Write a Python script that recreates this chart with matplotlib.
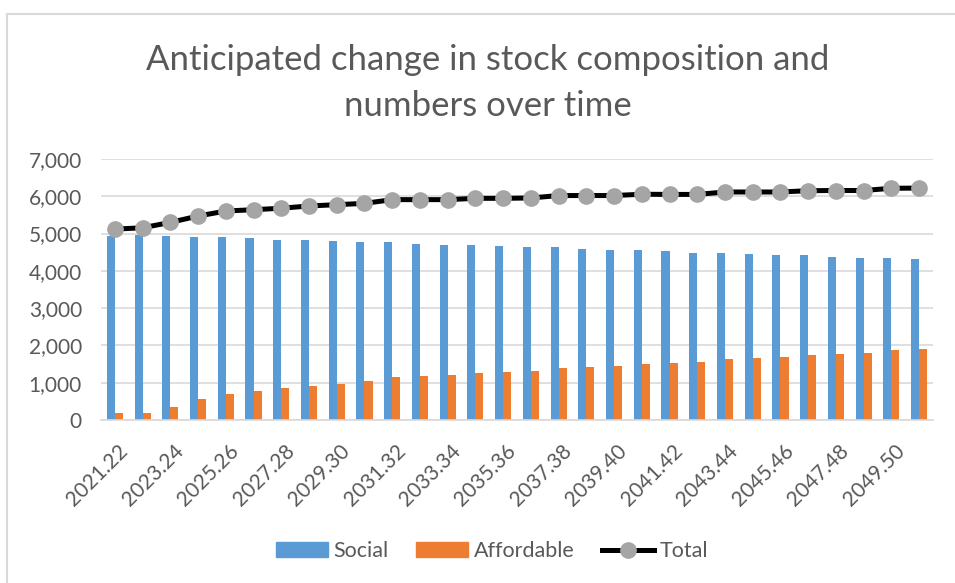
import numpy as np
import matplotlib.pyplot as plt
from matplotlib.patches import Rectangle, Patch
from matplotlib.lines import Line2D
from matplotlib.transforms import ScaledTranslation

# --- Data ---
years = ["2021.22", "2022.23", "2023.24", "2024.25", "2025.26", "2026.27",
         "2027.28", "2028.29", "2029.30", "2030.31", "2031.32", "2032.33",
         "2033.34", "2034.35", "2035.36", "2036.37", "2037.38", "2038.39",
         "2039.40", "2040.41", "2041.42", "2042.43", "2043.44", "2044.45",
         "2045.46", "2046.47", "2047.48", "2048.49", "2049.50", "2050.51"]
social = [4940, 4975, 4940, 4905, 4905, 4870, 4835, 4835, 4800, 4765,
          4765, 4730, 4690, 4690, 4655, 4630, 4630, 4595, 4560, 4560,
          4520, 4485, 4485, 4450, 4415, 4415, 4380, 4345, 4345, 4315]
affordable = [180, 180, 360, 565, 700, 770, 845, 905, 975, 1045,
              1145, 1180, 1220, 1255, 1290, 1325, 1390, 1425, 1460, 1495,
              1530, 1565, 1630, 1665, 1700, 1735, 1775, 1810, 1870, 1905]
total = [5120, 5155, 5300, 5470, 5605, 5640, 5680, 5740, 5775, 5810,
         5910, 5910, 5910, 5945, 5945, 5955, 6020, 6020, 6020, 6055,
         6050, 6050, 6115, 6115, 6115, 6150, 6155, 6155, 6215, 6220]

BLUE = "#5B9BD5"
ORANGE = "#ED7D31"
GREY_MARK = "#A5A5A5"
TXT = "#595959"
GRID = "#D9D9D9"

plt.rcParams['font.family'] = ['Lato', 'DejaVu Sans']

fig = plt.figure(figsize=(9.55, 5.83), dpi=100)
W, H = 955, 583

# chart border (right/bottom edges fall outside the image)
fig.patches.append(Rectangle((7 / W, -0.05), 1.0, 1 - 14 / H + 0.05,
                             transform=fig.transFigure, fill=False,
                             edgecolor="#D9D9D9", lw=1.5))

ax = fig.add_axes([101 / W, 1 - 420 / H, (933 - 101) / W, (420 - 159) / H])

x = np.arange(len(years))
bw = 0.29
ax.bar(x - bw / 2, social, width=bw, color=BLUE, zorder=2)
ax.bar(x + bw / 2, affordable, width=bw, color=ORANGE, zorder=2)
ax.plot(x, total, color="black", lw=3.6, marker="o", markersize=11,
        markerfacecolor=GREY_MARK, markeredgecolor=GREY_MARK, zorder=3)

ax.set_xlim(-0.5, len(years) - 0.5)
ax.set_ylim(0, 7000)
ax.set_yticks(np.arange(0, 7001, 1000))
ax.set_yticklabels([f"{v:,}" for v in range(0, 7001, 1000)])
ax.grid(axis="y", color=GRID, lw=1.2, zorder=0)
for s in ["top", "right", "left"]:
    ax.spines[s].set_visible(False)
ax.spines["bottom"].set_color(GRID)
ax.spines["bottom"].set_linewidth(1.2)

ax.set_xticks(x[::2])
ax.set_xticklabels(years[::2], rotation=45, ha="right", va="center",
                   rotation_mode="anchor")
ax.tick_params(axis="x", length=0, pad=20, labelsize=15, labelcolor=TXT)
ax.tick_params(axis="y", length=0, pad=13.7, labelsize=15, labelcolor=TXT)
shift = ScaledTranslation(10 / 100, 0, fig.dpi_scale_trans)
for lab in ax.get_xticklabels():
    lab.set_transform(lab.get_transform() + shift)

fig.text(488 / W, 1 - 70 / H, "Anticipated change in stock composition and",
         ha="center", va="baseline", fontsize=25, color=TXT)
fig.text(488 / W, 1 - 116 / H, "numbers over time",
         ha="center", va="baseline", fontsize=25, color=TXT)

handles = [Patch(color=BLUE, label="Social"),
           Patch(color=ORANGE, label="Affordable"),
           Line2D([], [], color="black", lw=3.6, marker="o", markersize=11,
                  markerfacecolor=GREY_MARK, markeredgecolor=GREY_MARK,
                  label="Total")]
leg = fig.legend(handles=handles, loc="center", bbox_to_anchor=(492 / W, 1 - 551 / H),
                 ncol=3, frameon=False, fontsize=15.5, handlelength=2.4,
                 handleheight=0.65, handletextpad=0.25, columnspacing=1.3,
                 borderpad=0, borderaxespad=0)
for t in leg.get_texts():
    t.set_color(TXT)

fig.savefig("out.png", dpi=100)
